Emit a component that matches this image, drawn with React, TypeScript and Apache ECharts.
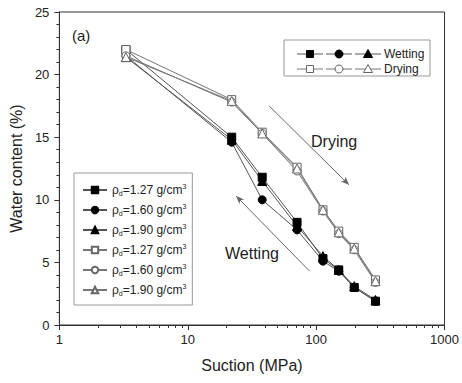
import React, { useEffect, useRef } from "react";
import * as echarts from "echarts";

const suction = [3.3, 22, 38, 71, 113, 150, 198, 290];
const wet127 = [22.0, 15.0, 11.8, 8.2, 5.3, 4.4, 3.0, 1.9];
const wet160 = [21.5, 14.6, 10.0, 7.6, 5.1, 4.3, 3.0, 1.9];
const wet190 = [21.4, 14.8, 11.5, 7.9, 5.5, 4.4, 3.1, 2.0];
const dry127 = [22.0, 18.0, 15.4, 12.6, 9.2, 7.5, 6.2, 3.6];
const dry160 = [21.5, 17.8, 15.3, 12.3, 9.1, 7.3, 6.0, 3.4];
const dry190 = [21.4, 17.9, 15.3, 12.5, 9.2, 7.4, 6.1, 3.5];
const densities = ["1.27", "1.60", "1.90"];
const xTicks = [1, 10, 100, 1000];
const xMinorTicks = [2, 3, 4, 5, 6, 7, 8, 9, 20, 30, 40, 50, 60, 70, 80, 90, 200, 300, 400, 500, 600, 700, 800, 900];
const dryingArrow = [[43, 17.5], [180, 11.2]];
const wettingArrow = [[89, 4.3], [23.8, 10.3]];

const FONT = "Liberation Sans, Arial, sans-serif";

export default function App() {
  const ref = useRef<HTMLDivElement>(null);
  useEffect(() => {
    const chart = echarts.init(ref.current!, null, { renderer: "svg" });
    const symbols = ["rect", "circle", "triangle"];
    const wetData = [wet127, wet160, wet190];
    const dryData = [dry127, dry160, dry190];
    const series: any[] = [];
    const names: string[] = [];
    densities.forEach((d, i) => {
      const name = "w" + d;
      names.push(name);
      series.push({
        name,
        type: "line",
        xAxisIndex: 0,
        data: suction.map((x, k) => [x, wetData[i][k]]),
        symbol: symbols[i],
        symbolSize: i === 2 ? 9 : 8,
        lineStyle: { color: "#555", width: 1 },
        itemStyle: { color: "#000", borderColor: "#000", borderWidth: 1 },
        z: 3,
      });
    });
    densities.forEach((d, i) => {
      const name = "d" + d;
      names.push(name);
      series.push({
        name,
        type: "line",
        xAxisIndex: 0,
        data: suction.map((x, k) => [x, dryData[i][k]]),
        symbol: symbols[i],
        symbolSize: i === 2 ? 9 : 8,
        lineStyle: { color: "#777", width: 1 },
        itemStyle: { color: "#fff", borderColor: "#666", borderWidth: 1 },
        z: 4,
      });
    });
    series[0].markLine = {
      silent: true,
      symbol: ["none", "arrow"],
      symbolSize: [5, 8],
      label: { show: false },
      lineStyle: { color: "#666", width: 1, type: "solid" },
      data: [
        [{ coord: dryingArrow[0] }, { coord: dryingArrow[1] }],
        [{ coord: wettingArrow[0] }, { coord: wettingArrow[1] }],
      ],
    };

    // top-right legend made of graphic elements
    const lg: any[] = [];
    lg.push({ type: "rect", shape: { x: 284, y: 40, width: 146, height: 36 }, style: { fill: "#fff", stroke: "#999", lineWidth: 1 }, z: 10 });
    const rows = [
      { y: 54, fill: "#000", stroke: "#000", line: "#555", label: "Wetting" },
      { y: 69, fill: "#fff", stroke: "#666", line: "#777", label: "Drying" },
    ];
    const cx = [310, 339, 368];
    rows.forEach((r) => {
      cx.forEach((c, j) => {
        lg.push({ type: "line", shape: { x1: c - 13, y1: r.y, x2: c + 13, y2: r.y }, style: { stroke: r.line, lineWidth: 1 }, z: 11 });
        if (j === 0) lg.push({ type: "rect", shape: { x: c - 3.5, y: r.y - 3.5, width: 7, height: 7 }, style: { fill: r.fill, stroke: r.stroke, lineWidth: 1 }, z: 12 });
        if (j === 1) lg.push({ type: "circle", shape: { cx: c, cy: r.y, r: 4 }, style: { fill: r.fill, stroke: r.stroke, lineWidth: 1 }, z: 12 });
        if (j === 2) lg.push({ type: "polygon", shape: { points: [[c, r.y - 4.5], [c + 4.5, r.y + 3.5], [c - 4.5, r.y + 3.5]] }, style: { fill: r.fill, stroke: r.stroke, lineWidth: 1 }, z: 12 });
      });
      lg.push({ type: "text", x: 384, y: r.y, style: { text: r.label, font: `12px ${FONT}`, fill: "#222", verticalAlign: "middle" }, z: 12 });
    });

    const xBase = {
      type: "log",
      logBase: 10,
      min: xTicks[0],
      max: xTicks[xTicks.length - 1],
      splitLine: { show: false },
    };

    chart.setOption({
      animation: false,
      backgroundColor: "#fff",
      grid: { left: 58, right: 17, top: 12, bottom: 58, show: true, borderColor: "#333", borderWidth: 1 },
      xAxis: [
        {
          ...xBase,
          name: "Suction (MPa)",
          nameLocation: "middle",
          nameGap: 32,
          nameTextStyle: { fontFamily: FONT, fontSize: 16, color: "#222" },
          axisLine: { lineStyle: { color: "#333" } },
          axisTick: { show: true, inside: false, length: 5, lineStyle: { color: "#333" }, customValues: xTicks },
          axisLabel: { fontFamily: FONT, fontSize: 13, color: "#222", margin: 8, customValues: xTicks, formatter: (v: number) => String(Math.round(v)) },
        },
        {
          ...xBase,
          position: "bottom",
          axisLine: { show: false },
          axisLabel: { show: false },
          axisTick: { show: true, inside: false, length: 3, lineStyle: { color: "#333" }, customValues: xMinorTicks },
        },
      ],
      yAxis: {
        type: "value",
        min: 0,
        max: 25,
        interval: 5,
        name: "Water content (%)",
        nameLocation: "middle",
        nameGap: 33,
        nameTextStyle: { fontFamily: FONT, fontSize: 16, color: "#222" },
        axisLine: { show: true, lineStyle: { color: "#333" } },
        axisTick: { show: true, inside: false, length: 5, lineStyle: { color: "#333" } },
        minorTick: { show: true, splitNumber: 5, length: 3, lineStyle: { color: "#333" } },
        axisLabel: { fontFamily: FONT, fontSize: 13, color: "#222", margin: 10 },
        splitLine: { show: false },
      },
      legend: {
        data: names,
        orient: "vertical",
        left: 74,
        top: 173,
        itemWidth: 24,
        itemHeight: 8,
        itemGap: 6,
        padding: [10, 6, 8, 8],
        backgroundColor: "#fff",
        borderColor: "#999",
        borderWidth: 1,
        formatter: (n: string) => `{a|ρ}{s|d}{a|=${n.slice(1)} g/cm}{p|3}`,
        textStyle: {
          fontFamily: FONT,
          color: "#222",
          rich: {
            a: { fontFamily: FONT, fontSize: 12, color: "#222", lineHeight: 14 },
            s: { fontFamily: FONT, fontSize: 7, color: "#222", verticalAlign: "bottom", lineHeight: 14 },
            p: { fontFamily: FONT, fontSize: 7, color: "#222", verticalAlign: "top", lineHeight: 14 },
          },
        },
      },
      graphic: [
        { type: "text", x: 72, y: 35, style: { text: "(a)", font: `15px ${FONT}`, fill: "#222", verticalAlign: "middle" }, z: 10 },
        { type: "text", x: 311, y: 141, style: { text: "Drying", font: `16px ${FONT}`, fill: "#222", verticalAlign: "middle" }, z: 10 },
        { type: "text", x: 225, y: 253, style: { text: "Wetting", font: `16px ${FONT}`, fill: "#222", verticalAlign: "middle" }, z: 10 },
        ...lg,
      ],
      series,
    });
    return () => chart.dispose();
  }, []);
  return <div ref={ref} style={{ position: "absolute", left: 0, top: 0, width: 462, height: 383 }} />;
}
